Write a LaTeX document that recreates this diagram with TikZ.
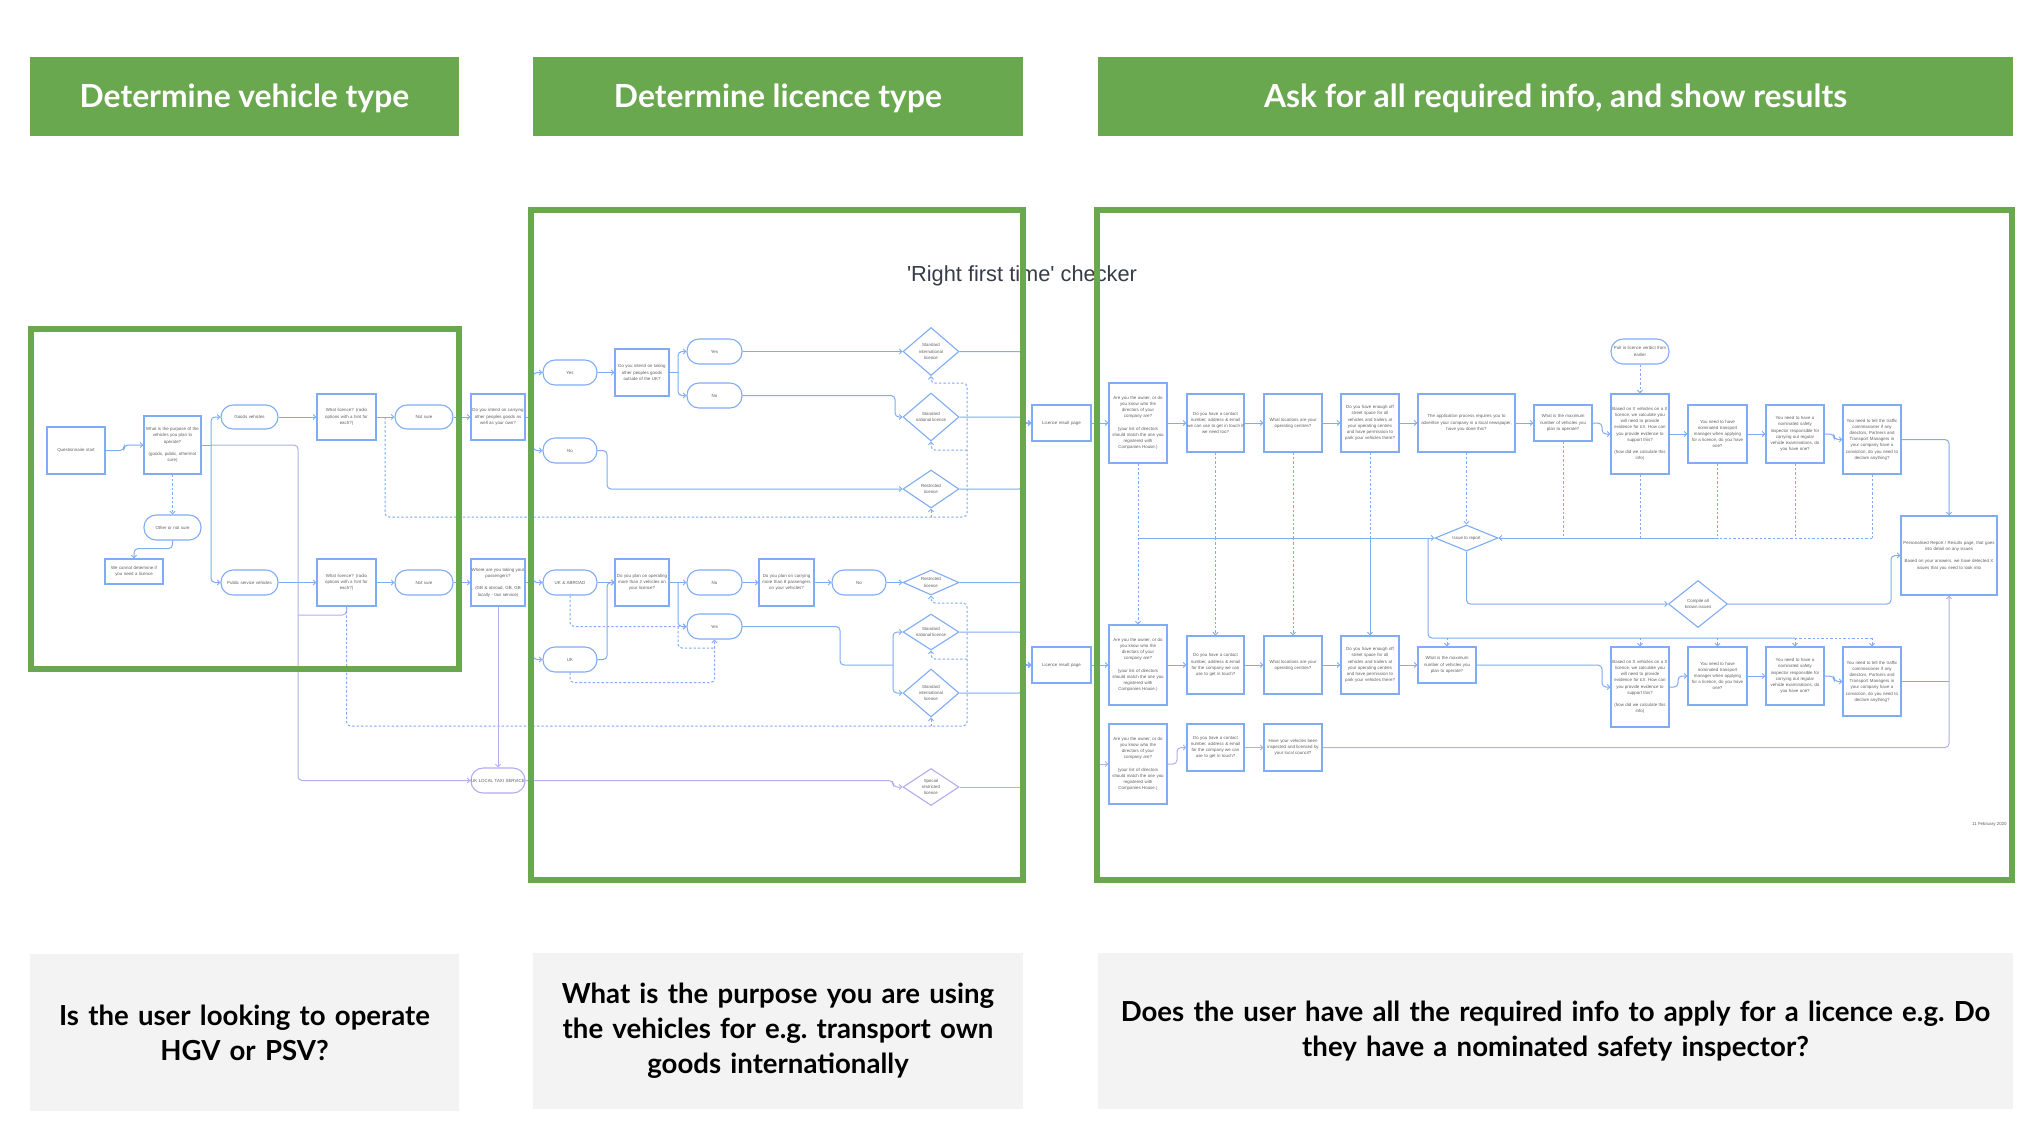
\documentclass[tikz,border=0pt]{standalone}
\usepackage{fontspec}
\setmainfont{Liberation Sans}
\newfontfamily\latofont{Lato}
\newfontfamily\ttlfont{Liberation Sans}
\usetikzlibrary{shapes.geometric,arrows.meta}
\definecolor{hgreen}{RGB}{106,168,79}
\definecolor{bgrey}{RGB}{243,243,243}
\definecolor{fcblue}{RGB}{128,172,246}
\definecolor{fclav}{RGB}{178,174,238}
\definecolor{fctext}{RGB}{95,95,95}
\definecolor{ttl}{RGB}{55,60,72}
\newcommand\qbox[7][qb]{%
  \pgfmathsetlengthmacro\qw{(#5-#3)*0.5pt}%
  \pgfmathsetlengthmacro\qh{(#6-#4)*0.5pt}%
  \node[#1, minimum width=\qw, minimum height=\qh, text width=\qw] (#2) at ({(#3+#5)/2},{(#4+#6)/2}) {#7};}
\newcommand\qdia[7][qd]{%
  \pgfmathsetlengthmacro\qw{#5*0.5pt}%
  \pgfmathsetlengthmacro\qh{#6*0.5pt}%
  \pgfmathsetmacro\qa{#5/#6}%
  \node[#1, minimum width=\qw, minimum height=\qh, shape aspect=\qa] (#2) at (#3,#4) {#7};}
\tikzset{
  fc/.style={font=\fontsize{2.2}{3.1}\selectfont, text=fctext, align=center, inner sep=0pt, line width=0.55pt, draw=fcblue},
  qb/.style={fc, rectangle},
  qs/.style={fc, rectangle, rounded corners=6pt},
  qsl/.style={qs, draw=fclav},
  qd/.style={fc, diamond},
  qdl/.style={qd, draw=fclav},
  lnn/.style={draw=fcblue, line width=0.5pt, rounded corners=2pt},
  ln/.style={lnn, -{Straight Barb[length=1.3pt,width=2.6pt]}},
  dsh/.style={dash pattern=on 1.2pt off 1pt},
  lav/.style={draw=fclav},
  hdr/.style={fill=hgreen, draw=none, inner sep=0pt},
  htxt/.style={text=white, inner sep=0pt, anchor=base, font=\latofont\bfseries\fontsize{15.9}{18}\selectfont},
  bot/.style={fill=bgrey, draw=none, text=black, align=center, inner sep=0pt, font=\latofont\bfseries\fontsize{13.8}{17.4}\selectfont},
  gbox/.style={draw=hgreen, line width=3pt}
}
\begin{document}
\begin{tikzpicture}[x=0.5pt,y=-0.5pt]
\useasboundingbox (0,0) rectangle (2040,1132);
\fill[white] (0,0) rectangle (2040,1132);
% headers
\qbox[hdr]{h1}{30}{57}{459}{136}{}
\qbox[hdr]{h2}{533}{57}{1023}{136}{}
\qbox[hdr]{h3}{1098}{57}{2013}{136}{}
\node[htxt] (h1t) at (244.5,107) {Determine vehicle type};
\node[htxt] (h2t) at (778,107) {Determine licence type};
\node[htxt] (h3t) at (1555.5,107) {Ask for all required info, and show results};
% bottom boxes
\qbox[bot]{b1}{30}{954}{459}{1111}{Is the user looking to operate\\HGV or PSV?}
\qbox[bot]{b2}{533}{953}{1023}{1109}{What is the purpose you are using\\the vehicles for e.g.\ transport own\\goods internationally}
\qbox[bot]{b3}{1098}{953}{2013}{1109}{Does the user have all the required info to apply for a licence e.g.\ Do\\they have a nominated safety inspector?}
% title
\node[font=\ttlfont\fontsize{10.9}{13}\selectfont, text=ttl] (title) at (1022,276) {'Right first time' checker};
% ---------- left nodes
\qbox{qstart}{47}{427}{105}{474}{Questionnaire start}
\qbox{purp}{144}{416}{201}{474}{What is the purpose of the\\vehicles you plan to\\operate?\\[3.1pt](goods, public, other/not\\sure)}
\qbox[qs]{goods}{221}{405}{278}{429}{Goods vehicles}
\qbox{wlA}{317}{394}{376}{440}{What licence? (radio\\options with a hint for\\each?)}
\qbox[qs]{nsA}{395}{405}{453}{429}{Not sure}
\qbox[qs]{other}{144}{515}{201}{540}{Other or not sure}
\qbox{cannot}{105}{559}{163}{584}{We cannot determine if\\you need a licence}
\qbox[qs]{psv}{221}{570}{278}{595}{Public service vehicles}
\qbox{wlB}{317}{559}{376}{606}{What licence? (radio\\options with a hint for\\each?)}
\qbox[qs]{nsB}{395}{570}{453}{595}{Not sure}
% ---------- middle nodes
\qbox{carry}{471}{394}{525}{440}{Do you intend on carrying\\other peoples goods as\\well as your own?}
\qbox[qs]{yesA}{543}{360}{597}{385}{Yes}
\qbox[qs]{noA}{543}{438}{597}{463}{No}
\qbox{outside}{615}{349}{669}{396}{Do you intend on taking\\other peoples goods\\outside of the UK?}
\qbox[qs]{yesB}{687}{339}{742}{364}{Yes}
\qbox[qs]{noB}{687}{383}{742}{408}{No}
\qdia{dSIa}{931}{351.5}{56}{48}{Standard\\international\\licence}
\qdia{dSNa}{931}{417}{56}{48}{Standard\\national licence}
\qdia{dRa}{931}{489}{56}{38}{Restricted\\licence}
\qbox{where}{471}{559}{525}{606}{Where are you taking your\\passengers?\\[3.1pt](GB \& abroad, GB, GB\\locally - taxi service)}
\qbox[qs]{ukab}{543}{570}{597}{595}{UK \& ABROAD}
\qbox[qs]{uk}{543}{647}{597}{672}{UK}
\qbox{more2}{615}{559}{669}{606}{Do you plan on operating\\more than 2 vehicles on\\your licence?}
\qbox[qs]{noC}{687}{570}{742}{595}{No}
\qbox[qs]{yesC}{687}{614}{742}{639}{Yes}
\qbox{more8}{759}{559}{814}{606}{Do you plan on carrying\\more than 8 passengers\\on your vehicles?}
\qbox[qs]{noD}{832}{570}{886}{595}{No}
\qdia{dRb}{931}{582.5}{56}{25}{Restricted\\licence}
\qdia{dSNb}{931}{632}{56}{36}{Standard\\national licence}
\qdia{dSIb}{931}{693}{56}{48}{Standard\\international\\licence}
\qbox[qsl]{taxi}{471}{768}{525}{793}{UK LOCAL TAXI SERVICE}
\qdia[qdl]{dSR}{931}{787}{56}{37}{Special\\restricted\\licence}
% ---------- right nodes
\qbox{lrpA}{1032}{405}{1091}{441}{Licence result page}
\qbox{lrpB}{1032}{647}{1091}{683}{Licence result page}
\qbox{ownA}{1109}{383}{1167}{463}{Are you the owner, or do\\you know who the\\directors of your\\company are?\\[3.1pt](your list of directors\\should match the one you\\registered with\\Companies House.)}
\qbox{conA}{1187}{394}{1244}{452}{Do you have a contact\\number, address \& email\\we can use to get in touch if\\we need too?}
\qbox{locA}{1264}{394}{1322}{452}{What locations are your\\operating centres?}
\qbox{offA}{1341}{394}{1399}{452}{Do you have enough off\\street space for all\\vehicles and trailers at\\your operating centres\\and have permission to\\park your vehicles there?}
\qbox{advA}{1418}{394}{1515}{452}{The application process requires you to\\advertise your company in a local newspaper,\\have you done this?}
\qbox{maxA}{1534}{405}{1592}{441}{What is the maximum\\number of vehicles you\\plan to operate?}
\qbox[qs]{pull}{1611}{339}{1669}{364}{Pull in licence verdict from\\earlier}
\qbox{basA}{1611}{394}{1669}{474}{Based on X vehicles on a X\\licence, we calculate you\\will need to provide\\evidence for £X. How can\\you provide evidence to\\support this?\\[3.1pt](how did we calculate this\\info)}
\qbox{tmA}{1688}{405}{1747}{463}{You need to have\\nominated transport\\manager when applying\\for a licence, do you have\\one?}
\qbox{siA}{1766}{405}{1824}{463}{You need to have a\\nominated safety\\inspector responsible for\\carrying out regular\\vehicle examinations, do\\you have one?}
\qbox{tcA}{1843}{405}{1901}{474}{You need to tell the traffic\\commissioner if any\\directors, Partners and\\Transport Managers in\\your company have a\\conviction, do you need to\\declare anything?}
\qdia{issue}{1466.5}{538}{63}{26}{Issue to report}
\qdia{compile}{1698}{604}{59}{47}{Compile all\\known issues}
\qbox{report}{1901}{516}{1997}{595}{Personalised Report / Results page, that goes\\into detail on any issues\\[3.1pt]Based on your answers, we have detected X\\issues that you need to look into\\[6pt]}
\qbox{ownB}{1109}{625}{1167}{705}{Are you the owner, or do\\you know who the\\directors of your\\company are?\\[3.1pt](your list of directors\\should match the one you\\registered with\\Companies House.)}
\qbox{conB}{1187}{636}{1244}{694}{Do you have a contact\\number, address \& email\\for the company we can\\use to get in touch?}
\qbox{locB}{1264}{636}{1322}{694}{What locations are your\\operating centres?}
\qbox{offB}{1341}{636}{1399}{694}{Do you have enough off\\street space for all\\vehicles and trailers at\\your operating centres\\and have permission to\\park your vehicles there?}
\qbox{maxB}{1418}{647}{1476}{683}{What is the maximum\\number of vehicles you\\plan to operate?}
\qbox{basB}{1611}{647}{1669}{727}{Based on X vehicles on a X\\licence, we calculate you\\will need to provide\\evidence for £X. How can\\you provide evidence to\\support this?\\[3.1pt](how did we calculate this\\info)}
\qbox{tmB}{1688}{647}{1747}{705}{You need to have\\nominated transport\\manager when applying\\for a licence, do you have\\one?}
\qbox{siB}{1766}{647}{1824}{705}{You need to have a\\nominated safety\\inspector responsible for\\carrying out regular\\vehicle examinations, do\\you have one?}
\qbox{tcB}{1843}{647}{1901}{716}{You need to tell the traffic\\commissioner if any\\directors, Partners and\\Transport Managers in\\your company have a\\conviction, do you need to\\declare anything?}
\qbox{ownC}{1109}{724}{1167}{804}{Are you the owner, or do\\you know who the\\directors of your\\company are?\\[3.1pt](your list of directors\\should match the one you\\registered with\\Companies House.)}
\qbox{conC}{1187}{724}{1244}{771}{Do you have a contact\\number, address \& email\\for the company we can\\use to get in touch?}
\qbox{insp}{1264}{724}{1322}{771}{Have your vehicles been\\inspected and licensed by\\your local council?}
\node[font=\fontsize{2.2}{3}\selectfont, text=fctext, anchor=east, inner sep=0pt] (date) at (2007,824) {11 February 2020};
% ---------- left connectors
\coordinate (pj) at (211,445);
\coordinate (gA) at (385,417);
\draw[ln] (qstart.east) -- (124,450.5) |- (purp.west);
\draw[ln,lav] (pj) -- (298,445) |- (taxi.west);
\draw[lnn,lav] (wlB.south) |- (298,615);
\draw[lnn] (purp.east) -- (pj);
\draw[ln] (pj) |- (goods.west);
\draw[ln] (pj) |- (psv.west);
\draw[ln,dsh] (purp.south) -- (other.north);
\draw[ln] (other.south) -- ++(0,8) -| (cannot.north);
\draw[ln] (goods) -- (wlA);
\draw[ln] (wlA) -- (nsA);
\draw[ln] (psv) -- (wlB);
\draw[ln] (wlB) -- (nsB);
\draw[ln,dsh] (gA) |- (967,517) |- (931,383) -- (dSIa.south);
\draw[ln,dsh] (967,450) -| (dSNa.south);
\draw[ln,dsh] (931,517) -- (dRa.south);
\draw[ln,dsh] (wlB.south) |- (967,726) |- (931,603) -- (dRb.south);
\draw[ln,dsh] (967,659) -| (dSNb.south);
\draw[ln,dsh] (931,726) -- (dSIb.south);
% ---------- middle connectors
\coordinate (cj) at (533,417);
\coordinate (oj) at (678,372.5);
\draw[ln] (nsA) -- (carry);
\draw[lnn] (carry.east) -- (cj);
\draw[ln] (cj) |- (yesA.west);
\draw[ln] (cj) |- (noA.west);
\draw[ln] (yesA) -- (outside);
\draw[lnn] (outside.east) -- (oj);
\draw[ln] (oj) |- (yesB.west);
\draw[ln] (oj) |- (noB.west);
\draw[ln] (yesB.east) -- (dSIa.west);
\draw[ln] (noB.east) -- (895,395.5) |- (dSNa.west);
\draw[ln] (noA.east) -- (607,450.5) |- (dRa.west);
\draw[ln] (dSIa.east) -- (1023,351.5) |- (lrpA.west);
\draw[ln] (dSNa.east) -- (1023,417) |- (lrpA.west);
\draw[ln] (dRa.east) -- (1023,489) |- (lrpA.west);
\coordinate (wj) at (533,582.5);
\coordinate (mj) at (678,582.5);
\coordinate (yj) at (893,665);
\draw[ln] (nsB) -- (where);
\draw[lnn] (where.east) -- (wj);
\draw[ln] (wj) |- (ukab.west);
\draw[ln] (wj) |- (uk.west);
\draw[ln] (ukab) -- (more2);
\draw[ln] (uk.east) -- (607,659.5) |- (more2.west);
\draw[lnn] (more2.east) -- (mj);
\draw[ln] (mj) -- (noC.west);
\draw[ln] (mj) |- (yesC.west);
\draw[ln] (noC) -- (more8);
\draw[ln] (more8) -- (noD);
\draw[ln] (noD) -- (dRb);
\draw[lnn] (yesC.east) -- (840,626.5) |- (yj);
\draw[ln] (yj) |- (dSNb.west);
\draw[ln] (yj) |- (dSIb.west);
\draw[ln,dsh] (ukab.south) |- (yesC.west);
\draw[ln,dsh] (uk.south) -- ++(0,10) -| (yesC.south);
\draw[lnn,dsh] (678,626.5) |- (714.5,648);
\draw[ln,lav] (where.south) -- (taxi.north);
\draw[ln,lav] (taxi.east) -- (893,780.5) |- (dSR.west);
\draw[ln] (dRb.east) -- (1023,582.5) |- (lrpB.west);
\draw[ln] (dSNb.east) -- (1023,632) |- (lrpB.west);
\draw[ln] (dSIb.east) -- (1023,693) |- (lrpB.west);
\draw[lnn,lav] (dSR.east) -- (1023,787);
% ---------- right connectors
\coordinate (r3) at (1099,764);
\draw[ln,lav] (r3) -- (ownC.west);
\draw[ln] (lrpA) -- (ownA);
\draw[ln] (ownA) -- (conA);
\draw[ln] (conA) -- (locA);
\draw[ln] (locA) -- (offA);
\draw[ln] (offA) -- (advA);
\draw[ln] (advA) -- (maxA);
\draw[ln] (maxA.east) -- (1602,423) |- (basA.west);
\draw[ln] (basA) -- (tmA);
\draw[ln] (tmA) -- (siA);
\draw[ln] (siA.east) -- (1834,434) |- (tcA.west);
\draw[ln] (tcA.east) -| (report.north);
\draw[ln,dsh] (pull) -- (basA);
\draw[lnn,dsh] (ownA.south) -- (1138,538);
\draw[lnn,dsh] (conA.south) -- (1215.5,538);
\draw[lnn,dsh] (locA.south) -- (1293,538);
\draw[lnn,dsh] (offA.south) -- (1370,538);
\draw[ln,dsh] (advA.south) -- (issue.north);
\draw[lnn,dsh] (maxA.south) -- (1563,538);
\draw[lnn,dsh] (basA.south) -- (1640,538);
\draw[lnn,dsh] (tmA.south) -- (1717.5,538);
\draw[lnn,dsh] (siA.south) -- (1795,538);
\draw[lnn,dsh] (tcA.south) -- (1872,538);
\draw[ln] (1138,538) -- (issue.west);
\draw[ln] (1717.5,538) -- (issue.east);
\draw[lnn,dsh] (1872,538) -- (1717.5,538);
\draw[ln,dsh] (1138,538) -- (ownB.north);
\draw[ln,dsh] (1215.5,538) -- (conB.north);
\draw[ln,dsh] (1293,538) -- (locB.north);
\draw[ln] (1370,538) -- (offB.north);
\draw[lnn] (1428,538) |- (1795,638);
\draw[lnn,dsh] (1795,638) -- (1872,638);
\draw[ln,dsh] (1447,638) -- (maxB.north);
\draw[ln,dsh] (1640,638) -- (basB.north);
\draw[ln,dsh] (1717.5,638) -- (tmB.north);
\draw[ln,dsh] (1795,638) -- (siB.north);
\draw[ln,dsh] (1872,638) -- (tcB.north);
\draw[ln] (issue.south) |- (compile.west);
\draw[ln] (compile.east) -- (1891,604) |- (report.west);
\draw[ln] (lrpB) -- (ownB);
\draw[ln] (ownB) -- (conB);
\draw[ln] (conB) -- (locB);
\draw[ln] (locB) -- (offB);
\draw[ln] (offB) -- (maxB);
\draw[ln] (maxB.east) -- (1602,665) |- (basB.west);
\draw[ln] (basB.east) -- (1678,687) |- (tmB.west);
\draw[ln] (tmB) -- (siB);
\draw[ln] (siB.east) -- (1834,676) |- (tcB.west);
\draw[lnn] (tcB.east) -- (1949,681.5);
\draw[ln,lav] (ownC.east) -- (1177,764) |- (conC.west);
\draw[ln,lav] (conC) -- (insp);
\draw[ln,lav] (insp.east) -| (report.south);
% ---------- green outline boxes
\draw[gbox] (31,329) rectangle (459,668.5);
\draw[gbox] (531,210) rectangle (1023,880);
\draw[gbox] (1097,210) rectangle (2012,880);
\end{tikzpicture}
\end{document}
